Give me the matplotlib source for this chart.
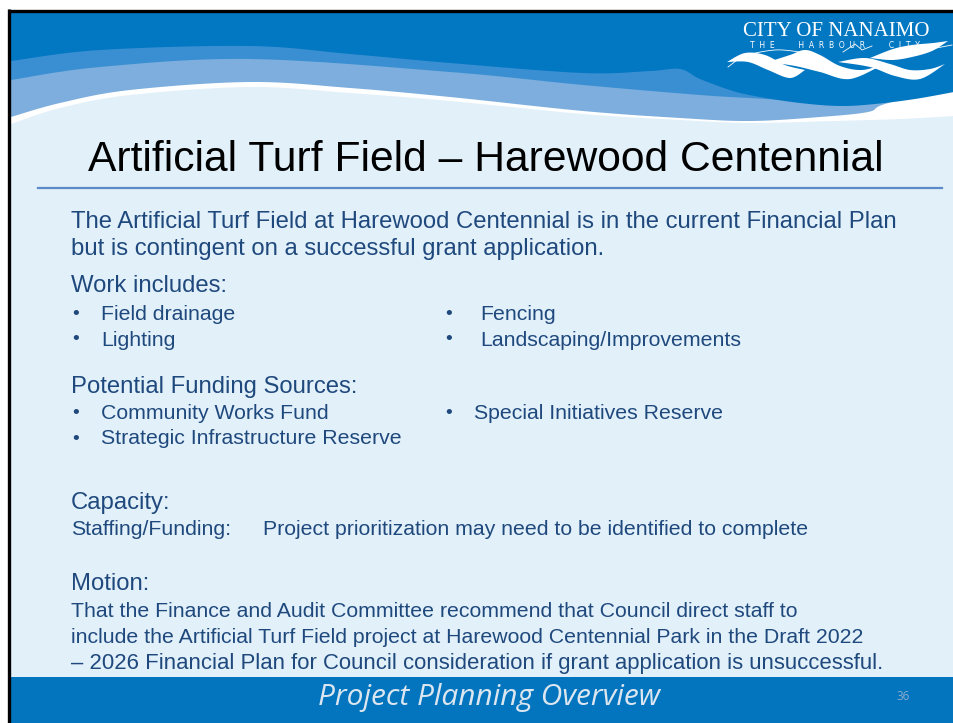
import numpy as np
import matplotlib
matplotlib.use("Agg")
import matplotlib.pyplot as plt

# slide text
title = "Artificial Turf Field \u2013 Harewood Centennial"
intro = ["The Artificial Turf Field at Harewood Centennial is in the current Financial Plan",
         "but is contingent on a successful grant application."]
work_left = ["Field drainage", "Lighting"]
work_right = ["Fencing", "Landscaping/Improvements"]
fund_left = ["Community Works Fund", "Strategic Infrastructure Reserve"]
fund_right = ["Special Initiatives Reserve"]
capacity_label = "Staffing/Funding:"
capacity_text = "Project prioritization may need to be identified to complete"
motion = ["That the Finance and Audit Committee recommend that Council direct staff to",
          "include the Artificial Turf Field project at Harewood Centennial Park in the Draft 2022",
          "\u2013 2026 Financial Plan for Council consideration if grant application is unsuccessful."]
motion_sizes = [15.3, 15.3, 15.9]
footer = "Project Planning Overview"
page_no = "36"

TXT = "#1F497D"
BG = "#E2F0FA"
DARK = "#0277C2"
MID = "#3A8FD2"
LIGHT = "#7DAEDD"

W, H = 954, 723
fig = plt.figure(figsize=(W / 100, H / 100), dpi=100)
ax = fig.add_axes([0, 0, 1, 1])
ax.set_xlim(0, W)
ax.set_ylim(H, 0)
ax.axis("off")


def smooth(pts, n=20):
    # catmull-rom through the given points
    p = np.array(pts, float)
    p = np.vstack([p[0], p, p[-1]])
    out = []
    for i in range(1, len(p) - 2):
        p0, p1, p2, p3 = p[i - 1], p[i], p[i + 1], p[i + 2]
        for t in np.linspace(0, 1, n, endpoint=False):
            t2, t3 = t * t, t * t * t
            out.append(0.5 * (2 * p1 + (-p0 + p2) * t + (2 * p0 - 5 * p1 + 4 * p2 - p3) * t2
                              + (-p0 + 3 * p1 - 3 * p2 + p3) * t3))
    out.append(p[-2])
    return np.array(out)


def band(pts, color, z):
    c = smooth(pts)
    poly = np.vstack([[pts[0][0], 12], c, [pts[-1][0], 12]])
    ax.fill(poly[:, 0], poly[:, 1], color=color, lw=0, zorder=z)


# slide background
ax.add_patch(plt.Rectangle((11, 12), W - 11, H - 12, color=BG, lw=0, zorder=0))

# header waves
white_edge = [(11, 124), (60, 108), (130, 95), (250, 87), (350, 93), (450, 101), (583, 114),
              (680, 120), (750, 123), (833, 121), (900, 119), (954, 116)]
light_edge = [(11, 117), (60, 103), (130, 90), (250, 82), (350, 88), (450, 97), (583, 111),
              (680, 118), (750, 121), (820, 117), (868, 112), (885, 104), (954, 85)]
mid_edge = [(11, 80), (100, 67), (250, 59), (450, 72), (583, 85), (700, 95), (750, 98),
            (790, 100), (830, 98), (954, 80)]
dark_edge = [(11, 61), (100, 50), (250, 46), (350, 54), (450, 63), (583, 73), (650, 71),
             (680, 69), (700, 79), (733, 91), (760, 97), (800, 103), (840, 106), (875, 104),
             (915, 99), (954, 92)]
band(white_edge, "white", 1)
band(light_edge, LIGHT, 2)
band(mid_edge, MID, 3)
band(dark_edge, DARK, 4)

# logo
ax.text(836, 32, "CITY OF NANAIMO", color="white", fontsize=15, family="Liberation Serif",
        ha="center", va="center", zorder=6)
ax.text(835, 45, "T  H  E          H  A  R  B  O  U  R          C  I  T  Y", color="white",
        fontsize=5.5, family="DejaVu Sans", ha="center", va="center", zorder=6)
ribbons = [
    ([(727, 62), (745, 53), (765, 55), (785, 65), (805, 70)],
     [(727, 62), (748, 62), (768, 70), (790, 78), (805, 70)]),
    ([(768, 62), (790, 55), (805, 50), (820, 55), (840, 66), (862, 70), (884, 64)],
     [(768, 62), (795, 66), (820, 72), (850, 79), (884, 64)]),
    ([(838, 62), (865, 58), (890, 64), (910, 70), (930, 69), (945, 64)],
     [(838, 62), (870, 67), (895, 76), (920, 79), (945, 64)]),
    ([(870, 58), (893, 49), (912, 45), (933, 43), (948, 41)],
     [(870, 58), (892, 60), (912, 57), (932, 51), (948, 41)]),
]
for top, bot in ribbons:
    a, b = smooth(top), smooth(bot)[::-1]
    poly = np.vstack([a, b])
    ax.fill(poly[:, 0], poly[:, 1], color="white", lw=0, zorder=6)
thin = smooth([(728, 67), (745, 56), (775, 50), (800, 52)])
ax.plot(thin[:, 0], thin[:, 1], color="white", lw=0.6, zorder=6)
ax.plot([843, 855, 862, 872], [52, 44, 50, 46], color="white", lw=0.6, zorder=6)
ax.plot([900, 952], [55, 45], color="white", lw=0.6, zorder=6)

# title
ax.text(486, 160, title, color="black", fontsize=30.7, family="Liberation Sans",
        ha="center", va="center", zorder=5)
ax.plot([38, 942], [188, 188], color="#5B8BC6", lw=1.6, zorder=5)

# body
sans = "Liberation Sans"
dy = 2.5
for i, s in enumerate(intro):
    ax.text(71, 219 + dy + i * 28, s, color=TXT, fontsize=17.2, family=sans, va="center")


def heading(y, s):
    ax.text(71, y + dy, s, color=TXT, fontsize=17.2, family=sans, va="center")


def bullets(items, y0, xb, xt):
    for i, s in enumerate(items):
        y = y0 + dy + i * 25.5
        ax.text(xb, y, "\u2022", color=TXT, fontsize=14, family=sans, va="center", ha="center")
        ax.text(xt, y, s, color=TXT, fontsize=15.3, family=sans, va="center")


heading(284, "Work includes:")
bullets(work_left, 312, 76, 101)
bullets(work_right, 312, 449, 480)
heading(384, "Potential Funding Sources:")
bullets(fund_left, 411, 76, 101)
bullets(fund_right, 411, 449, 474)
heading(500, "Capacity:")
ax.text(71, 527 + dy, capacity_label, color=TXT, fontsize=15.3, family=sans, va="center")
ax.text(263, 527 + dy, capacity_text, color=TXT, fontsize=15.3, family=sans, va="center")
heading(582, "Motion:")
for i, s in enumerate(motion):
    ax.text(71, 609 + dy + i * 26, s, color=TXT, fontsize=motion_sizes[i], family=sans,
            va="center")

# footer
ax.add_patch(plt.Rectangle((11, 677), W - 11, H - 677, color="#0275BE", lw=0, zorder=1))
ax.text(489, 698, footer, color="#DCE6F0", fontsize=21.5, family="Open Sans", style="italic",
        ha="center", va="center", zorder=2)
ax.text(903, 697, page_no, color="#8EABCB", fontsize=8.5, family="Open Sans",
        ha="center", va="center", zorder=2)

# frame lines at top and left
ax.plot([8, W], [10.5, 10.5], color="black", lw=2.4, zorder=7, solid_capstyle="butt")
ax.plot([9.5, 9.5], [9, H], color="black", lw=2.4, zorder=7, solid_capstyle="butt")

fig.savefig("out.png", dpi=100, facecolor="white")
